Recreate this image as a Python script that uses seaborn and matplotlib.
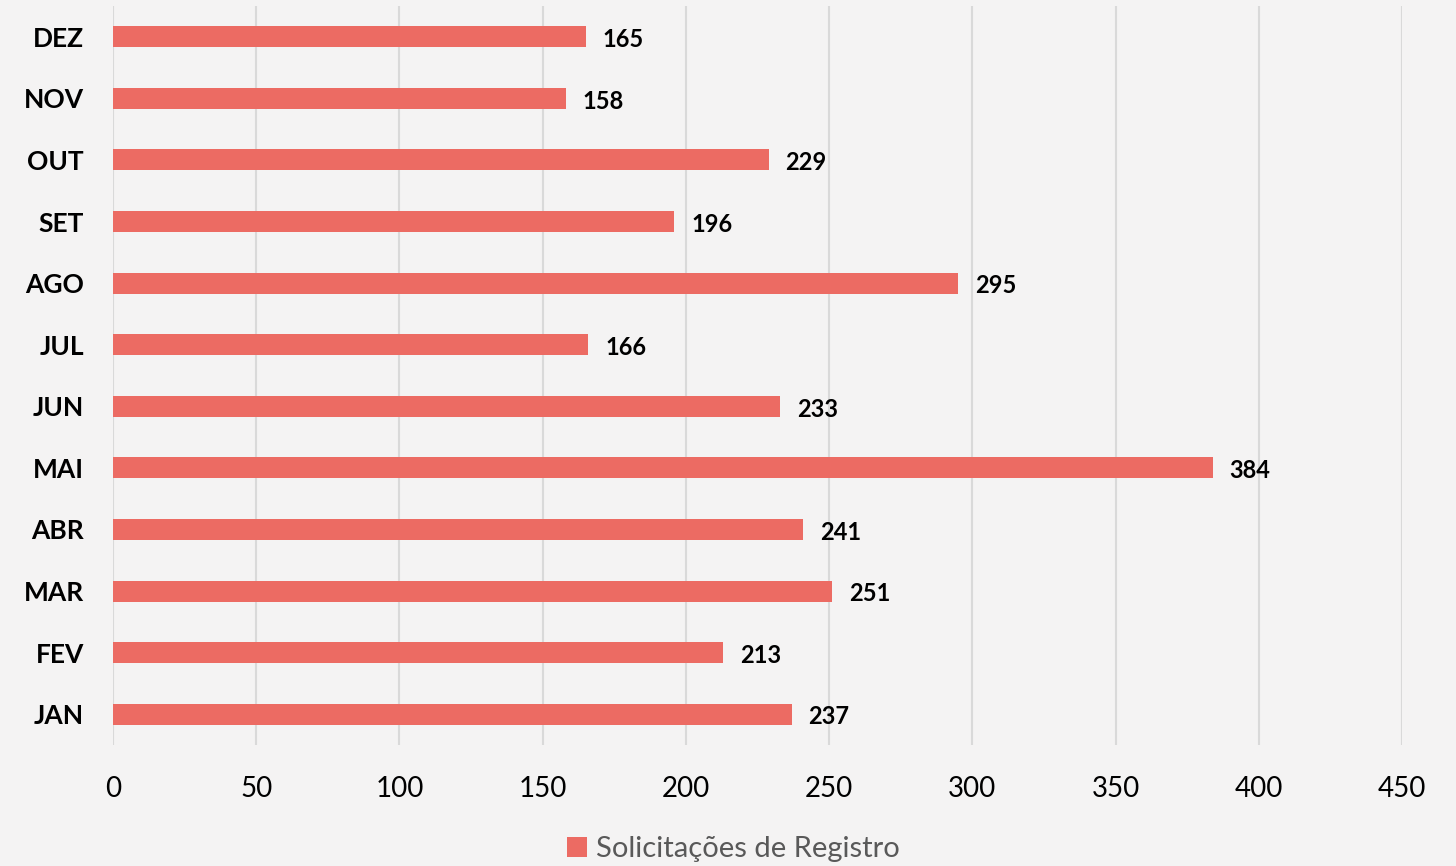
import matplotlib
matplotlib.use("Agg")
import matplotlib.pyplot as plt
import seaborn as sns
import pandas as pd
from matplotlib.patches import Patch

months = ["DEZ", "NOV", "OUT", "SET", "AGO", "JUL", "JUN", "MAI", "ABR", "MAR", "FEV", "JAN"]
values = [165, 158, 229, 196, 295, 166, 233, 384, 241, 251, 213, 237]
series_name = "Solicitações de Registro"
x_ticks = [0, 50, 100, 150, 200, 250, 300, 350, 400, 450]

bar_color = "#EC6B63"
bg = "#f4f3f3"

sns.set_theme(style="white")
plt.rcParams["font.family"] = ["Lato", "DejaVu Sans"]

df = pd.DataFrame({"mes": months, "valor": values})

fig = plt.figure(figsize=(14.56, 8.66), dpi=100, facecolor=bg)
ax = fig.add_axes([113/1456, 1 - 745/866, (1402 - 113)/1456, (745 - 6)/866])
ax.set_facecolor(bg)

sns.barplot(data=df, x="valor", y="mes", order=months, color=bar_color,
            width=0.34, ax=ax, orient="h", saturation=1, edgecolor="none")

ax.set_xlim(0, 450)
ax.set_ylim(len(months) - 0.5, -0.5)
ax.set_xticks(x_ticks)
ax.set_xticklabels([str(t) for t in x_ticks], fontsize=20, color="black")
ax.tick_params(axis="x", length=0, pad=22)
ax.tick_params(axis="y", length=0, pad=21)
for lbl in ax.get_yticklabels():
    lbl.set_fontweight("bold")
    lbl.set_fontsize(19)
    lbl.set_color("black")
ax.set_xlabel("")
ax.set_ylabel("")
ax.grid(axis="x", color="#d9d9d9", linewidth=1.5)
ax.set_axisbelow(True)
for s in ax.spines.values():
    s.set_visible(False)

for i, v in enumerate(values):
    ax.annotate(str(v), xy=(v, i), xytext=(12, -2), textcoords="offset points",
                va="center", ha="left", fontsize=17, fontweight="bold", color="black")

handles = [Patch(facecolor=bar_color, edgecolor="none", label=series_name)]
fig.legend(handles=handles, loc="center", bbox_to_anchor=(733/1456, 1 - 849/866),
           frameon=False, fontsize=21, handlelength=0.7, handleheight=0.7,
           handletextpad=0.3, labelcolor="#595959")

fig.savefig("out.png", dpi=100, facecolor=bg)
